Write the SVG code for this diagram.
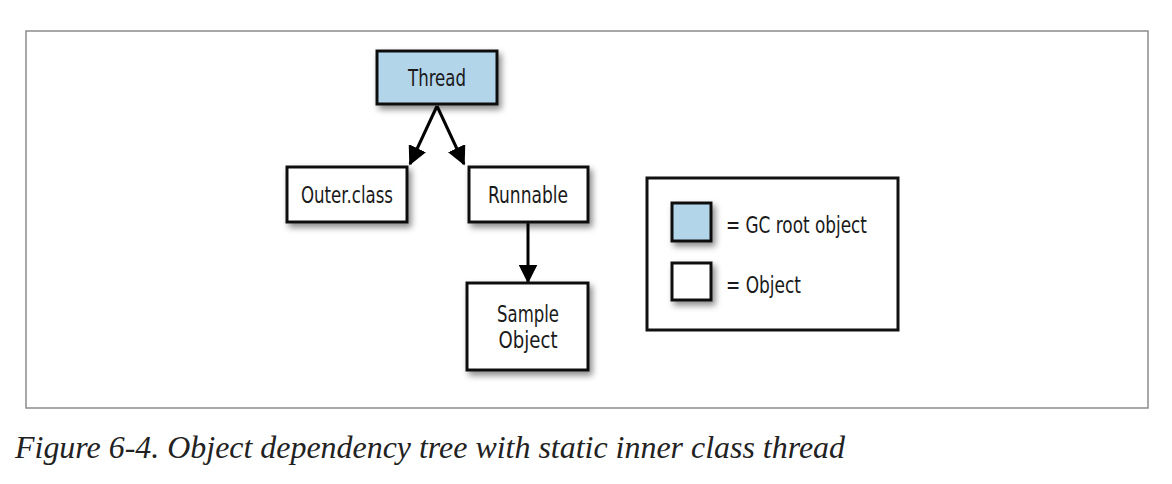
<svg xmlns="http://www.w3.org/2000/svg" width="1172" height="484" viewBox="0 0 1172 484">
<defs>
<filter id="sh" x="-20%" y="-20%" width="150%" height="160%">
<feDropShadow dx="3" dy="4" stdDeviation="3" flood-color="#000" flood-opacity="0.45"/>
</filter>
<marker id="arr" viewBox="0 0 12 12" refX="11" refY="6" markerWidth="19" markerHeight="19" markerUnits="userSpaceOnUse" orient="auto">
<path d="M0,0 L12,6 L0,12 z" fill="#000"/>
</marker>
</defs>
<style>
.box{stroke:#111;stroke-width:3;filter:url(#sh)}
.w{fill:#fff}
.b{fill:#b3d5ea}
.lbl{font-family:"DejaVu Sans Condensed","Liberation Sans",sans-serif;font-stretch:condensed;font-size:23px;fill:#1a1a1a;text-anchor:middle}
.leg{font-family:"DejaVu Sans Condensed","Liberation Sans",sans-serif;font-stretch:condensed;font-size:23px;fill:#1a1a1a}
.edge{stroke:#000;stroke-width:3;fill:none;marker-end:url(#arr)}
.cap{font-family:"Liberation Serif",serif;font-style:italic;font-size:31px;fill:#222}
</style>
<rect width="1172" height="484" fill="#fff"/>
<rect x="26" y="31" width="1122" height="377" fill="#fff" stroke="#8c8c8c" stroke-width="1.5"/>
<g id="connectors">
<line class="edge" x1="437" y1="106" x2="410" y2="164"/>
<line class="edge" x1="437" y1="106" x2="464" y2="164"/>
<line class="edge" x1="528" y1="223" x2="528" y2="282"/>
</g>
<g id="thread">
<rect class="box b" x="377" y="51" width="120" height="53"/>
<text class="lbl" x="437" y="86" textLength="58" lengthAdjust="spacingAndGlyphs">Thread</text>
</g>
<g id="outer">
<rect class="box w" x="287" y="167" width="120" height="55"/>
<text class="lbl" x="347" y="203" textLength="92" lengthAdjust="spacingAndGlyphs">Outer.class</text>
</g>
<g id="runnable">
<rect class="box w" x="469" y="167" width="119" height="55"/>
<text class="lbl" x="528" y="203" textLength="80" lengthAdjust="spacingAndGlyphs">Runnable</text>
</g>
<g id="sample">
<rect class="box w" x="467" y="283" width="121" height="87"/>
<text class="lbl" x="528" y="322" textLength="62" lengthAdjust="spacingAndGlyphs">Sample</text>
<text class="lbl" x="528" y="348" textLength="59" lengthAdjust="spacingAndGlyphs">Object</text>
</g>
<g id="legend">
<rect x="647" y="178" width="251" height="152" fill="#fff" stroke="#111" stroke-width="3"/>
<rect class="box b" x="672" y="203" width="39" height="38"/>
<text class="leg" x="726" y="233" textLength="141" lengthAdjust="spacingAndGlyphs">= GC root object</text>
<rect class="box w" x="672" y="263" width="39" height="37"/>
<text class="leg" x="726" y="293" textLength="75" lengthAdjust="spacingAndGlyphs">= Object</text>
</g>
<text class="cap" x="15" y="458" textLength="830" lengthAdjust="spacingAndGlyphs">Figure 6-4. Object dependency tree with static inner class thread</text>
</svg>
